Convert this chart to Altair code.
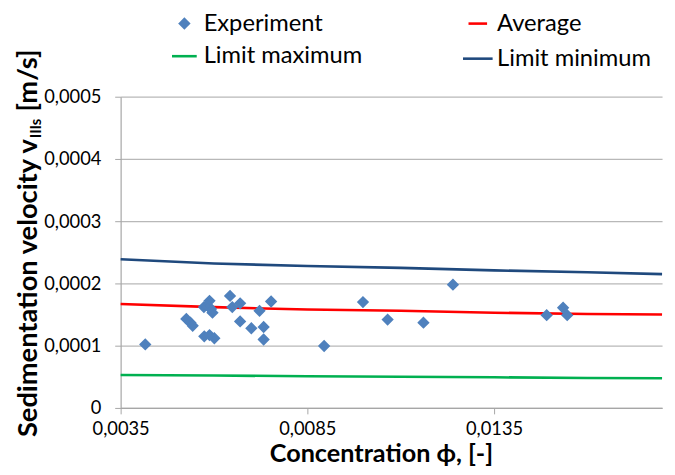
import altair as alt
import pandas as pd

# ---- data ----
exp_x = [0.00416, 0.00526, 0.00537, 0.00543, 0.00574, 0.00588, 0.00601, 0.00573,
         0.00588, 0.00592, 0.00596, 0.00583, 0.00643, 0.00649, 0.00670, 0.00670,
         0.00700, 0.00722, 0.00733, 0.00733, 0.00753, 0.00895, 0.00999, 0.01065,
         0.01161, 0.01240, 0.01491, 0.01535, 0.01546]
exp_y = [0.000102, 0.000143, 0.000137, 0.000132, 0.000115, 0.000117, 0.000112, 0.000162,
         0.000172, 0.000159, 0.000153, 0.000164, 0.000180, 0.000162, 0.000168, 0.000139,
         0.000128, 0.000156, 0.000130, 0.000110, 0.000171, 0.0000995, 0.000170, 0.000142,
         0.000137, 0.000198, 0.000149, 0.000161, 0.000149]

line_x = [0.0035, 0.0060, 0.0085, 0.0110, 0.0135, 0.0160, 0.0180]
avg_y = [0.000167, 0.000162, 0.000158, 0.000156, 0.000153, 0.000151, 0.000150]
lmax_y = [0.0000530, 0.0000520, 0.0000510, 0.0000500, 0.0000492, 0.0000482, 0.0000478]
lmin_y = [0.000239, 0.000232, 0.000228, 0.000225, 0.000221, 0.000218, 0.000215]

series_names = ["Experiment", "Average", "Limit maximum", "Limit minimum"]
series_colors = ["#4F81BD", "#FF0000", "#00B050", "#1F497D"]
series_fills = ["#4F81BD", "transparent", "transparent", "transparent"]
series_shapes = ["diamond", "stroke", "stroke", "stroke"]
series_sizes = [80, 900, 900, 900]

x_ticks = [0.0035, 0.0085, 0.0135]
y_ticks = [0, 0.0001, 0.0002, 0.0003, 0.0004, 0.0005]

x_title = ["Concentration ϕ, [-]"]
y_title_main = ["Sedimentation velocity v"]
y_title_sub = ["IIIs"]
y_title_unit = ["[m/s]"]

FONT = "Lato"

pts = pd.DataFrame({"x": exp_x, "y": exp_y, "series": "Experiment"})
lines = pd.concat([
    pd.DataFrame({"x": line_x, "y": avg_y, "series": "Average"}),
    pd.DataFrame({"x": line_x, "y": lmax_y, "series": "Limit maximum"}),
    pd.DataFrame({"x": line_x, "y": lmin_y, "series": "Limit minimum"}),
])

xscale = alt.Scale(domain=[0.0035, 0.0180], nice=False, zero=False)
yscale = alt.Scale(domain=[0, 0.0005], nice=False)

xaxis = alt.Axis(values=x_ticks, title=None, grid=False,
                 labelExpr="replace(format(datum.value, '.4f'), '.', ',')",
                 labelFont=FONT, labelFontSize=18.5, labelColor="#000000",
                 labelFlush=False, labelOverlap=False,
                 labelPadding=6, tickSize=6, tickColor="#A6A6A6",
                 domainColor="#A6A6A6", domainWidth=1.2)
yaxis = alt.Axis(values=y_ticks, title=None, grid=True, gridColor="#B8B8B8",
                 gridWidth=1.2, labelFlush=False, labelOverlap=False,
                 labelExpr="datum.value == 0 ? '0' : replace(format(datum.value, '.4f'), '.', ',')",
                 labelFont=FONT, labelFontSize=18.5, labelColor="#000000",
                 labelPadding=14, tickSize=6, tickColor="#A6A6A6",
                 domainColor="#A6A6A6", domainWidth=1.2)


def make_legend():
    return alt.Legend(
        title=None, orient="none", legendX=48, legendY=-86, columns=2,
        direction="horizontal", labelLimit=300,
        columnPadding=96, rowPadding=7, labelFont=FONT, labelFontSize=24,
        labelColor="#000000", labelOffset=3, symbolStrokeWidth=2.6,
        symbolOpacity=1,
    )


color = alt.Color("series:N", scale=alt.Scale(domain=series_names, range=series_colors),
                  legend=make_legend())
fill = alt.Fill("series:N", scale=alt.Scale(domain=series_names, range=series_fills),
                legend=make_legend())
shape = alt.Shape("series:N", scale=alt.Scale(domain=series_names, range=series_shapes),
                  legend=make_legend())
size = alt.Size("series:N", scale=alt.Scale(domain=series_names, range=series_sizes),
                legend=make_legend())

line_layer = alt.Chart(lines).mark_line(strokeWidth=2.6).encode(
    x=alt.X("x:Q", scale=xscale, axis=xaxis),
    y=alt.Y("y:Q", scale=yscale, axis=yaxis),
    color=color,
    detail="series:N",
)

pt_layer = alt.Chart(pts).mark_point(filled=False, strokeWidth=2.5, opacity=1).encode(
    x=alt.X("x:Q", scale=xscale),
    y=alt.Y("y:Q", scale=yscale),
    color=color,
    fill=fill,
    shape=shape,
    size=size,
)

xt = alt.Chart(pd.DataFrame({"t": x_title})).mark_text(
    font=FONT, fontSize=25.5, fontWeight="bold", color="#000000",
    baseline="alphabetic", align="center"
).encode(text="t:N", x=alt.value(264), y=alt.value(370))

yt_main = alt.Chart(pd.DataFrame({"t": y_title_main})).mark_text(
    font=FONT, fontSize=27.6, fontWeight="bold", color="#000000", angle=270,
    baseline="middle", align="right"
).encode(text="t:N", x=alt.value(-93), y=alt.value(43))

yt_sub = alt.Chart(pd.DataFrame({"t": y_title_sub})).mark_text(
    font=FONT, fontSize=15, fontWeight="bold", color="#000000", angle=270,
    baseline="middle", align="left"
).encode(text="t:N", x=alt.value(-86), y=alt.value(42))

yt_unit = alt.Chart(pd.DataFrame({"t": y_title_unit})).mark_text(
    font=FONT, fontSize=27.6, fontWeight="bold", color="#000000", angle=270,
    baseline="middle", align="left"
).encode(text="t:N", x=alt.value(-93), y=alt.value(15))

chart = alt.layer(line_layer, pt_layer, xt, yt_main, yt_sub, yt_unit).properties(
    width=548, height=315,
    autosize=alt.AutoSizeParams(type="none"),
    padding={"left": 114, "top": 87, "right": 5, "bottom": 57},
    background="#FFFFFF",
).configure_view(stroke=None)

chart.save("out.html", embed_options={"renderer": "svg", "actions": False})
